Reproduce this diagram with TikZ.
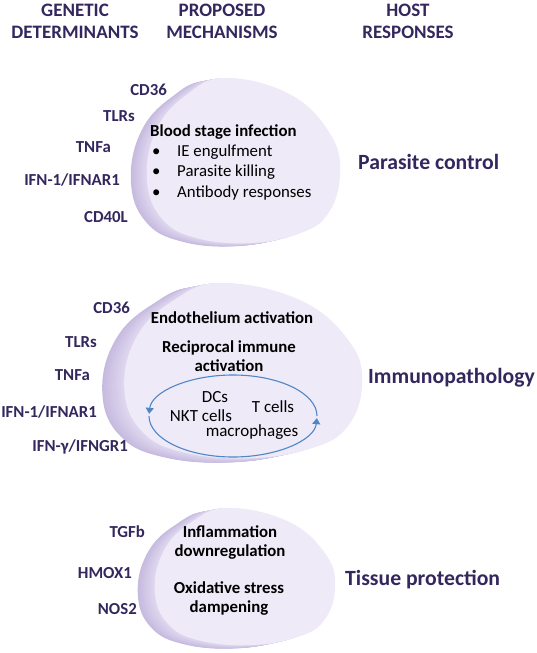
\documentclass[tikz,border=0pt]{standalone}
\usepackage{fontspec}
\setmainfont{Carlito}
\usepackage{tikz}
\usetikzlibrary{arrows.meta}
\definecolor{ink}{HTML}{33275E}
\definecolor{pillowface}{HTML}{EFEAF8}
\definecolor{pillowdark}{HTML}{C6BADF}
\definecolor{pillowlight}{HTML}{E0D8F0}
\definecolor{loopblue}{HTML}{4F86C6}
\tikzset{
  header/.style={
    font=\bfseries\fontsize{19}{22}\selectfont,text=ink,
    align=center,inner sep=0pt
  },
  gene/.style={
    font=\bfseries\fontsize{16.8}{18}\selectfont,text=ink,
    anchor=east,inner sep=0pt
  },
  mech/.style={
    font=\bfseries\fontsize{16.8}{19}\selectfont,
    align=center,inner sep=0pt
  },
  cell/.style={font=\fontsize{17}{19}\selectfont,inner sep=0pt},
  response/.style={
    font=\bfseries\fontsize{21.7}{24}\selectfont,text=ink,
    anchor=west,inner sep=0pt
  },
  loopline/.style={-{Triangle[length=6pt,width=8pt]},draw=loopblue,line width=1.1pt}
}
% pillow outline, unit half-widths
\newcommand{\pillowpath}{plot[smooth cycle,tension=0.7] coordinates
  {(-0.17,-1) (0.49,-0.80) (0.90,-0.32) (1,0.16) (0.88,0.64) (0.59,0.88)
   (0.09,1) (-0.47,0.94) (-0.83,0.70) (-0.98,0.22) (-0.88,-0.38) (-0.57,-0.80)}}
% #1,#2 centre  #3,#4 half size  #5 depth
\newcommand{\pillow}[5]{%
  \begin{scope}[shift={(#1,#2)},x=#3pt,y=-#4pt]
    \foreach \d in {#5,...,1}{
      \pgfmathtruncatemacro{\mix}{100*\d/#5}
      \fill[pillowdark!\mix!pillowlight,xshift=-\d pt,yshift=-0.2*\d pt] \pillowpath;
    }
    \fill[pillowface] \pillowpath;
  \end{scope}}

\begin{document}
\begin{tikzpicture}[x=1pt,y=-1pt]
\useasboundingbox[fill=white] (0,0) rectangle (537,653);

% column heads
\node[header] (genetic) at (75,21) {GENETIC\\DETERMINANTS};
\node[header] (proposed) at (222,21) {PROPOSED\\MECHANISMS};
\node[header] (host) at (408,21) {HOST\\RESPONSES};

% parasite control
\pillow{242.5}{160.5}{97.5}{82.5}{16}
\node[gene] (cdA) at (167,90) {CD36};
\node[gene] (tlrA) at (135,116) {TLRs};
\node[gene] (tnfA) at (111,147) {TNFa};
\node[gene] (ifnA) at (120,180) {IFN-1/IFNAR1};
\node[gene] (cdB) at (128,217) {CD40L};
\node[mech,align=left,anchor=west,font=\bfseries\fontsize{16.8}{20.3}\selectfont] (blood) at (150,162)
{Blood stage infection\\
\mdseries\makebox[27pt][l]{\hspace{2pt}\textbullet}IE engulfment\\
\mdseries\makebox[27pt][l]{\hspace{2pt}\textbullet}Parasite killing\\
\mdseries\makebox[27pt][l]{\hspace{2pt}\textbullet}Antibody responses};
\node[response] (control) at (358,162) {Parasite control};

% immunopathology
\pillow{242}{370.5}{120}{87.5}{22}
\node[gene] (cdC) at (130,308) {CD36};
\node[gene] (tlrB) at (97,342) {TLRs};
\node[gene] (tnfB) at (90,375) {TNFa};
\node[gene] (ifnB) at (97,412) {IFN-1/IFNAR1};
\node[gene] (ifng) at (128,447) {IFN-γ/IFNGR1};
\node[mech] (endo) at (232,318) {Endothelium activation};
\node[mech] (recip) at (229,356.5) {Reciprocal immune\\activation};
\coordinate (loop) at (233,416);
\draw[loopline] ([xshift=84pt]loop) arc[start angle=0,end angle=177,x radius=84pt,y radius=41pt];
\draw[loopline] ([xshift=-84pt]loop) arc[start angle=180,end angle=357,x radius=84pt,y radius=41pt];
\node[cell] (dcs) at (215,397) {DCs};
\node[cell] (nkt) at (201,416) {NKT cells};
\node[cell] (tcells) at (273,407) {T cells};
\node[cell] (macro) at (252,432) {macrophages};
\node[response] (pathology) at (368,378) {Immunopathology};

% tissue protection
\pillow{244}{576.5}{91}{68.5}{17}
\node[gene] (tgf) at (145,532) {TGFb};
\node[gene] (hmox) at (132,573) {HMOX1};
\node[gene] (nos) at (137,609) {NOS2};
\node[mech] (inflam) at (230,542.5) {Inflammation\\downregulation};
\node[mech] (oxid) at (229,598.5) {Oxidative stress\\dampening};
\node[response] (protection) at (345,580) {Tissue protection};
\end{tikzpicture}
\end{document}
